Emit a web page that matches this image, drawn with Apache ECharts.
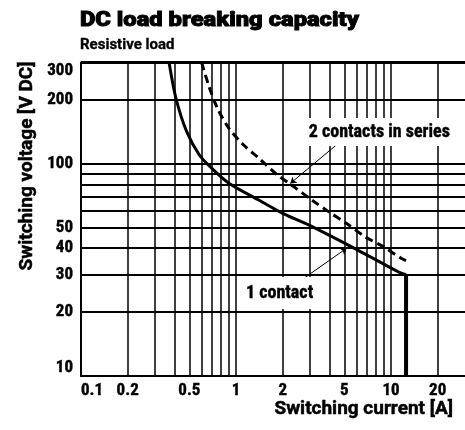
<!DOCTYPE html>
<html><head><meta charset="utf-8">
<script src="https://cdn.jsdelivr.net/npm/echarts@6/dist/echarts.min.js"></script>
<style>html,body{margin:0;padding:0;background:#fff}#c{width:465px;height:430px}</style>
</head><body><div id="c"></div>
<script>
// ---- data ----
var oneContactX = [0.37, 0.41, 0.48, 0.58, 0.70, 0.90, 1.4, 2.0, 2.94, 6.1, 11.1, 12.5];
var oneContactY = [300, 203, 142, 110, 95, 81, 67.5, 58.4, 51.5, 39.2, 31, 30];
var oneContactDropX = [12.5, 12.5];
var oneContactDropY = [30, 10];
var twoContactsX = [0.60, 0.67, 0.76, 0.90, 1.12, 1.41, 1.8, 2.36, 3.08, 3.95, 5.15, 6.8, 8.9, 11.6, 12.5];
var twoContactsY = [300, 231, 182, 147, 122.6, 106, 90, 78, 67.5, 59.5, 52.4, 45.3, 40.7, 35.9, 35];
var xTickLabels = [0.1, 0.2, 0.5, 1, 2, 5, 10, 20];
var yTickLabels = [10, 20, 30, 40, 50, 100, 200, 300];
var xGridValues = [0.2,0.3,0.4,0.5,0.6,0.7,0.8,0.9,1,2,3,4,5,6,7,8,9,10,20];
var yGridValues = [20,30,40,50,60,70,80,90,100,200,300];
var labelTwo = {text: '2 contacts in series', at: [8.4, 141], from: [4.44, 122.6], to: [2.24, 80.8]};
var labelOne = {text: '1 contact', at: [1.91, 24.6], from: [2.53, 27.7], to: [5.17, 40]};

function zip(a, b) { return a.map(function (v, i) { return [v, b[i]]; }); }

var FONT = 'Roboto Condensed';
var FONT2 = 'Roboto';
var chart = echarts.init(document.getElementById('c'), null, {renderer: 'canvas'});
chart.setOption({
  animation: false,
  backgroundColor: '#fff',
  grid: {left: 81, top: 62.5, width: 387, height: 313.5, containLabel: false},
  xAxis: {
    type: 'log', logBase: 10, min: 0.1, max: 30,
    axisLine: {show: true, onZero: false, lineStyle: {color: '#000', width: 2}},
    axisTick: {show: false},
    splitLine: {show: false},
    axisLabel: {customValues: xTickLabels, color: '#000', fontFamily: FONT, fontWeight: 'bold', fontSize: 17, margin: 6,
      alignMinLabel: 'left', textBorderColor: '#000', textBorderWidth: 0.4,
      formatter: function (v) { return String(+v.toPrecision(3)); }}
  },
  yAxis: {
    type: 'log', logBase: 10, min: 10, max: 300,
    axisLine: {show: true, onZero: false, lineStyle: {color: '#000', width: 2}},
    axisTick: {show: false},
    splitLine: {show: false},
    axisLabel: {customValues: yTickLabels, color: '#000', fontFamily: FONT, fontWeight: 'bold', fontSize: 17, margin: 8,
      verticalAlignMinLabel: 'bottom', verticalAlignMaxLabel: 'top', textBorderColor: '#000', textBorderWidth: 0.4,
      formatter: function (v) { return String(Math.round(v)); }}
  },
  graphic: [
    {type: 'text', x: 80, y: 20.5, scaleX: 1.13, z: 10, style: {text: 'DC load breaking capacity', fill: '#000', stroke: '#000', lineWidth: 0.9, font: '900 21px "' + FONT2 + '"', textAlign: 'left', textVerticalAlign: 'middle'}},
    {type: 'text', x: 80, y: 45.5, z: 10, style: {text: 'Resistive load', fill: '#000', stroke: '#000', lineWidth: 0.3, font: 'bold 15px "' + FONT2 + '"', textAlign: 'left', textVerticalAlign: 'middle'}},
    {type: 'text', x: 453, y: 409, z: 10, style: {text: 'Switching current [A]', fill: '#000', stroke: '#000', lineWidth: 0.5, font: 'bold 19px "' + FONT2 + '"', textAlign: 'right', textVerticalAlign: 'middle'}},
    {type: 'text', x: 27, y: 166, rotation: Math.PI / 2, z: 10, style: {text: 'Switching voltage [V DC]', fill: '#000', stroke: '#000', lineWidth: 0.5, font: 'bold 19px "' + FONT2 + '"', textAlign: 'center', textVerticalAlign: 'middle'}}
  ],
  series: [
    {
      name: 'grid', type: 'line', data: [], z: 1, silent: true,
      markLine: {
        silent: true, symbol: 'none', label: {show: false}, animation: false, z: 1,
        data: xGridValues.map(function (v) { return {xAxis: v, lineStyle: {color: '#000', width: 1.5, type: 'solid'}}; })
          .concat(yGridValues.map(function (v) { return {yAxis: v, lineStyle: {color: '#000', width: v === 300 ? 3 : 2, type: 'solid'}}; }))
      }
    },
    {
      name: 'labels', type: 'line', data: [], z: 6, silent: true,
      markLine: {
        silent: true, symbol: ['none', 'arrow'], symbolSize: 6, label: {show: false}, z: 6,
        lineStyle: {color: '#000', width: 1, type: 'solid'},
        data: [
          [{coord: labelTwo.from}, {coord: labelTwo.to}],
          [{coord: labelOne.from}, {coord: labelOne.to}]
        ]
      },
      markPoint: {
        silent: true, symbol: 'rect', symbolSize: 0, z: 7,
        label: {show: true, position: 'inside', color: '#000', fontFamily: FONT, fontWeight: 'bold', fontSize: 18,
          textBorderColor: '#000', textBorderWidth: 0.4,
          backgroundColor: '#fff', padding: [5, 3], formatter: '{b}'},
        data: [
          {name: labelTwo.text, coord: labelTwo.at},
          {name: labelOne.text, coord: labelOne.at, label: {padding: [7, 4]}}
        ]
      }
    },
    {
      name: '1 contact', type: 'line', z: 4, data: zip(oneContactX, oneContactY), smooth: 0.3,
      showSymbol: false, lineStyle: {color: '#000', width: 3}
    },
    {
      name: '1 contact limit', type: 'line', z: 4, data: zip(oneContactDropX, oneContactDropY),
      showSymbol: false, lineStyle: {color: '#000', width: 4}
    },
    {
      name: '2 contacts in series', type: 'line', z: 4, data: zip(twoContactsX, twoContactsY), smooth: 0.3,
      showSymbol: false, lineStyle: {color: '#000', width: 3, type: [8, 5]}
    }
  ]
});
</script></body></html>
